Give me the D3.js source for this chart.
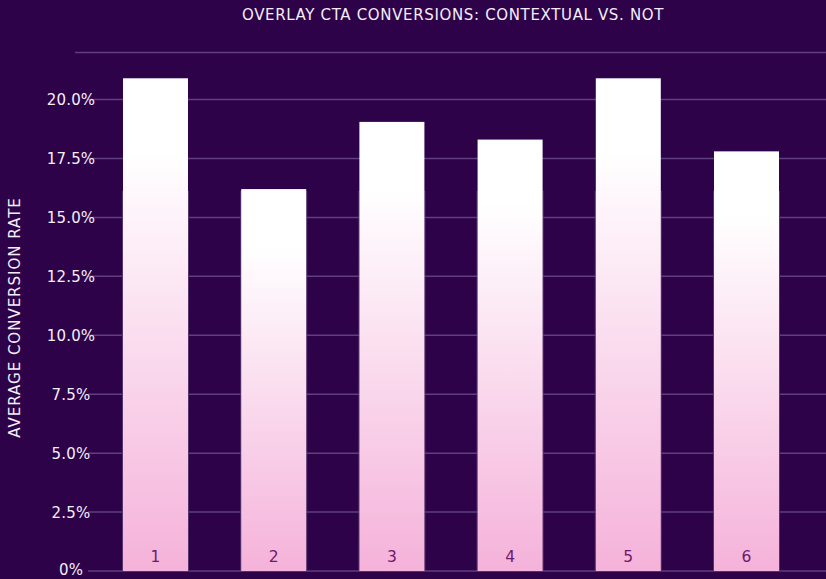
<!DOCTYPE html>
<html><head><meta charset="utf-8">
<script src="https://cdn.jsdelivr.net/npm/d3@7"></script>
<style>html,body{margin:0;padding:0;background:#2d0249;}svg{display:block;}</style>
</head><body>
<svg id="c" width="826" height="579"></svg>
<script>
const categories = ["1","2","3","4","5","6"];
const values = [20.9, 16.2, 19.05, 18.3, 20.9, 17.8];
const backValues = [16.1, 16.1, 16.1, 16.1, 16.1, 16.1];
const yTicks = [0, 2.5, 5, 7.5, 10, 12.5, 15, 17.5, 20];
const tickLabels = ["0%", "2.5%", "5.0%", "7.5%", "10.0%", "12.5%", "15.0%", "17.5%", "20.0%"];
const title = "OVERLAY CTA CONVERSIONS: CONTEXTUAL VS. NOT";
const yTitle = "AVERAGE CONVERSION RATE";

const svg = d3.select("#c");
const W = 826, H = 579;
const FONT = "DejaVu Sans, sans-serif";
svg.append("rect").attr("width", W).attr("height", H).attr("fill", "#2d0249");

const defs = svg.append("defs");
const g = defs.append("linearGradient").attr("id", "bg").attr("x1", 0).attr("y1", 0).attr("x2", 0).attr("y2", 1);
g.append("stop").attr("offset", "0%").attr("stop-color", "#ffffff");
g.append("stop").attr("offset", "15%").attr("stop-color", "#ffffff");
g.append("stop").attr("offset", "100%").attr("stop-color", "#f5b2da");

const x = d3.scaleBand().domain(categories).range([96.4, 805.6]).paddingInner(0.45).paddingOuter(0.225);
const y = d3.scaleLinear().domain([0, 20]).range([571, 99.5]);

// top border line
svg.append("line").attr("x1", 75).attr("x2", W).attr("y1", 52.5).attr("y2", 52.5)
  .attr("stroke", "#5f3f7e").attr("stroke-width", 1.5);

// grid
svg.append("g").selectAll("line").data(yTicks).join("line")
  .attr("x1", 88).attr("x2", W).attr("y1", d => y(d)).attr("y2", d => y(d))
  .attr("stroke", "#5f3f7e").attr("stroke-width", 1.5);

// y axis labels (centred at x=71)
const yAxis = d3.axisLeft(y).tickValues(yTicks).tickFormat((d, i) => tickLabels[i]).tickSize(0).tickPadding(0);
const ag = svg.append("g").attr("transform", "translate(71,0)").call(yAxis);
ag.select(".domain").remove();
ag.selectAll("text").attr("fill", "#f4eef8").attr("font-family", FONT)
  .attr("font-size", 15).attr("letter-spacing", "0.2px").attr("text-anchor", "middle")
  .attr("dy", "0.35em").attr("x", 0)
  .attr("y", d => d === 0 ? -1.5 : 0);

// back series (faint)
svg.append("g").selectAll("rect").data(backValues).join("rect")
  .attr("x", (d, i) => x(categories[i]) - 0.5).attr("width", x.bandwidth() + 1)
  .attr("y", d => y(d)).attr("height", d => y(0) - y(d))
  .attr("fill", "none").attr("stroke", "#54366f").attr("stroke-width", 1);

// bars
svg.append("g").selectAll("rect").data(values).join("rect")
  .attr("x", (d, i) => x(categories[i])).attr("width", x.bandwidth())
  .attr("y", d => y(d)).attr("height", d => y(0) - y(d))
  .attr("fill", "url(#bg)");

// bar labels
svg.append("g").selectAll("text").data(categories).join("text")
  .attr("x", d => x(d) + x.bandwidth() / 2).attr("y", 562)
  .attr("text-anchor", "middle").attr("fill", "#6b1a6f")
  .attr("font-family", FONT).attr("font-size", 15.5).text(d => d);

// title
svg.append("text").attr("x", 453).attr("y", 19.5).attr("text-anchor", "middle")
  .attr("fill", "#f4eef8").attr("font-family", FONT).attr("font-size", 15)
  .attr("letter-spacing", "0.65px").text(title);

// y title
svg.append("text").attr("transform", "translate(19.5,317.5) rotate(-90)").attr("text-anchor", "middle")
  .attr("fill", "#f4eef8").attr("font-family", FONT).attr("font-size", 15)
  .attr("letter-spacing", "1px").text(yTitle);
</script>
</body></html>
